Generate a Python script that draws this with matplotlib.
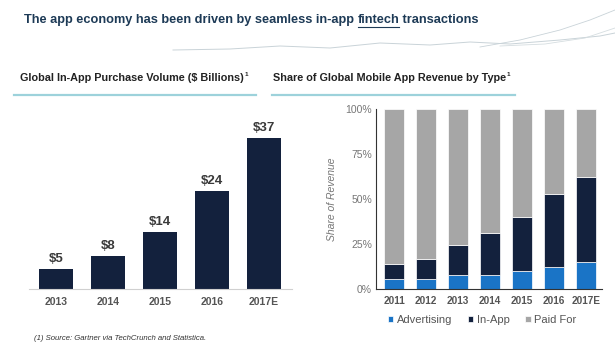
import matplotlib
matplotlib.use("Agg")
import matplotlib.pyplot as plt
from matplotlib.lines import Line2D
import numpy as np

plt.rcParams['font.family'] = ['Liberation Sans', 'DejaVu Sans']

# Left chart data
iap_years = ["2013", "2014", "2015", "2016", "2017E"]
iap_values = [5, 8, 14, 24, 37]
iap_labels = ["\\$5", "\\$8", "\\$14", "\\$24", "\\$37"]

# Right chart data
rev_years = ["2011", "2012", "2013", "2014", "2015", "2016", "2017E"]
advertising = [5.4, 5.4, 7.8, 7.8, 9.8, 12.0, 15.0]
in_app = [8.5, 11.3, 16.6, 23.1, 30.0, 41.0, 47.4]
paid_for = [100 - a - b for a, b in zip(advertising, in_app)]
yticks = [0, 25, 50, 75, 100]
ytick_labels = ["0%", "25%", "50%", "75%", "100%"]

NAVY = "#13213d"
BLUE = "#1a74c6"
GRAY = "#a6a6a6"
TITLE_C = "#1d3a56"
TEAL = "#9dd2db"

W, H = 615, 345
fig = plt.figure(figsize=(W / 100, H / 100), dpi=100)
fig.patch.set_facecolor("white")

def fx(px):
    return px / W

def fy(py):
    return 1 - py / H

TS = 9.2
# Title
t_pre = fig.text(fx(24), fy(20), "The app economy has been driven by seamless in-app ",
                 fontsize=TS, fontweight="bold", color=TITLE_C, va="center", ha="left")
fig.canvas.draw()
r = fig.canvas.get_renderer()
bb_pre = t_pre.get_window_extent(r)
t2 = fig.text(bb_pre.x1 / W, fy(20), "fintech", fontsize=TS, fontweight="bold",
              color=TITLE_C, va="center", ha="left")
bb2 = t2.get_window_extent(r)
fig.text(bb2.x1 / W, fy(20), " transactions", fontsize=TS, fontweight="bold",
         color=TITLE_C, va="center", ha="left")
fig.add_artist(Line2D([bb2.x0 / W, bb2.x1 / W], [fy(27), fy(27)], color=TITLE_C, lw=0.8))

# decorative network lines (light)
deco_x = [173, 230, 280, 330, 380, 430, 470, 510, 560, 600, 615]
deco_y = [50, 49, 46, 48, 43, 45, 42, 44, 40, 36, 33]
fig.add_artist(Line2D([fx(v) for v in deco_x], [fy(v) for v in deco_y], color="#c9d3d8", lw=0.7))
deco_x2 = [480, 520, 560, 590, 615]
deco_y2 = [47, 40, 30, 20, 10]
fig.add_artist(Line2D([fx(v) for v in deco_x2], [fy(v) for v in deco_y2], color="#c9d3d8", lw=0.6))
deco_x3 = [500, 545, 585, 615]
deco_y3 = [46, 44, 38, 28]
fig.add_artist(Line2D([fx(v) for v in deco_x3], [fy(v) for v in deco_y3], color="#d5dde0", lw=0.6))

# Section headers
def header(xpx, txt):
    t = fig.text(fx(xpx), fy(78), txt, fontsize=7.8, fontweight="bold", color="#222222",
                 va="center", ha="left")
    bb = t.get_window_extent(fig.canvas.get_renderer())
    fig.text(bb.x1 / W + 0.001, fy(75), "1", fontsize=4.5, fontweight="bold", color="#222222",
             va="center", ha="left")

header(20, "Global In-App Purchase Volume (\\$ Billions)")
header(273, "Share of Global Mobile App Revenue by Type")
fig.add_artist(Line2D([fx(14), fx(256)], [fy(95), fy(95)], color=TEAL, lw=1.6))
fig.add_artist(Line2D([fx(272), fx(515)], [fy(95), fy(95)], color=TEAL, lw=1.6))

# Left chart
axL = fig.add_axes([fx(29), fy(289), fx(292) - fx(29), fy(110) - fy(289)])
x = np.arange(len(iap_years))
axL.bar(x, iap_values, width=0.67, color=NAVY)
for xi, v, lab in zip(x, iap_values, iap_labels):
    axL.text(xi, v + 1.0, lab, ha="center", va="bottom", fontsize=9.5,
             fontweight="bold", color="#3a3a3a")
axL.set_xlim(-0.52, 4.54)
axL.set_ylim(0, 44)
axL.set_xticks(x)
axL.set_xticklabels(iap_years, fontsize=7.5, fontweight="bold", color="#555555")
axL.tick_params(axis="x", length=0, pad=6)
axL.set_yticks([])
for s in ["top", "right", "left"]:
    axL.spines[s].set_visible(False)
axL.spines["bottom"].set_color("#d0d0d0")
axL.spines["bottom"].set_linewidth(0.8)

# Right chart
axR = fig.add_axes([fx(376), fy(289), fx(601.7) - fx(376), fy(109) - fy(289)])
xr = np.arange(len(rev_years))
w = 0.63
axR.bar(xr, advertising, width=w, color=BLUE, label="Advertising", edgecolor="white", linewidth=0.5)
axR.bar(xr, in_app, width=w, bottom=advertising, color=NAVY, label="In-App", edgecolor="white", linewidth=0.5)
bottoms = [a + b for a, b in zip(advertising, in_app)]
axR.bar(xr, paid_for, width=w, bottom=bottoms, color=GRAY, label="Paid For", edgecolor="white", linewidth=0.5)
axR.set_xlim(-0.574, 6.5)
axR.set_ylim(0, 100)
axR.set_yticks(yticks)
axR.set_yticklabels(ytick_labels, fontsize=7.5, color="#777777")
axR.tick_params(axis="y", length=0, pad=3)
axR.set_xticks(xr)
axR.set_xticklabels(rev_years, fontsize=7.2, fontweight="bold", color="#555555")
axR.tick_params(axis="x", length=0, pad=5)
axR.set_ylabel("Share of Revenue", fontsize=7.5, style="italic", color="#777777", labelpad=6)
axR.spines["top"].set_visible(False)
axR.spines["right"].set_visible(False)
axR.spines["left"].set_color("#333333")
axR.spines["bottom"].set_color("#333333")
axR.spines["left"].set_linewidth(0.8)
axR.spines["bottom"].set_linewidth(0.8)
leg = axR.legend(loc="upper center", bbox_to_anchor=(0.47, -0.09), ncol=3, frameon=False,
                 fontsize=8, handlelength=0.5, handleheight=0.5, handletextpad=0.3,
                 columnspacing=1.4)
for t in leg.get_texts():
    t.set_color("#555555")

# Footnote
fig.text(fx(34), fy(338), "(1) Source: Gartner via TechCrunch and Statistica.", fontsize=5.6,
         style="italic", color="#333333", va="center", ha="left")

fig.savefig("out.png", dpi=100, facecolor="white")
